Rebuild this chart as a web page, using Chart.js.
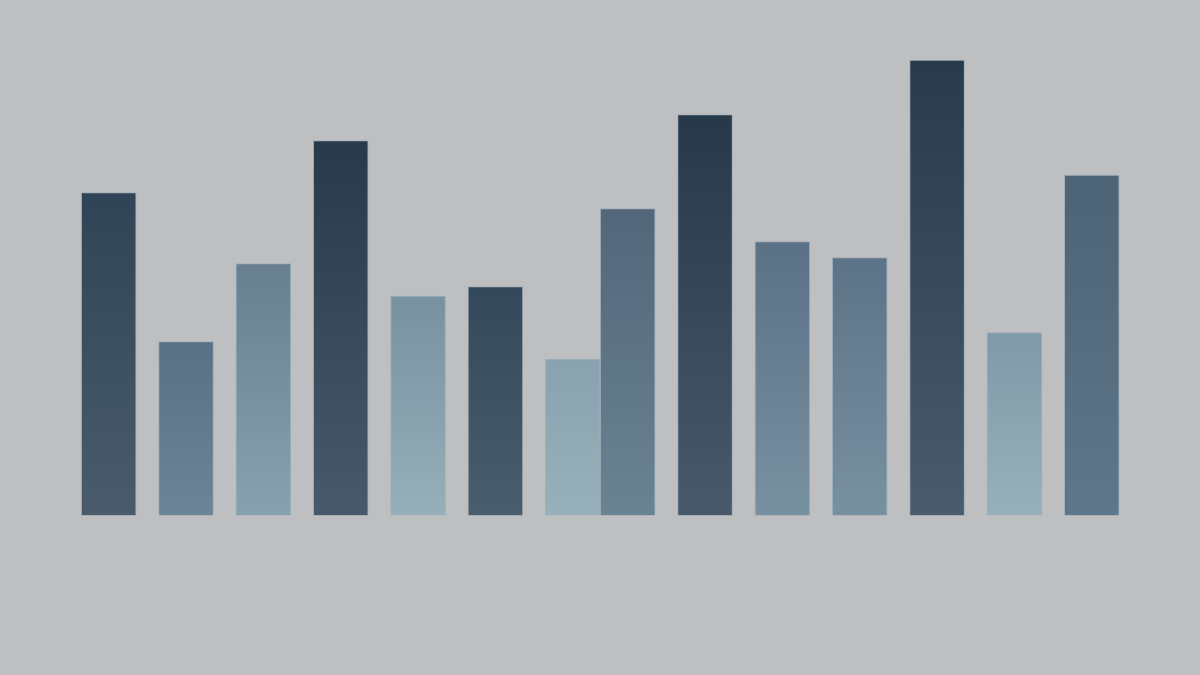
<!DOCTYPE html>
<html>
<head>
<meta charset="utf-8">
<script src="https://cdn.jsdelivr.net/npm/chart.js@4/dist/chart.umd.min.js"></script>
<style>
  html, body { margin: 0; padding: 0; background: #bebfc1; }
  #wrap { width: 1200px; height: 675px; position: relative; }
</style>
</head>
<body>
<div id="wrap"><canvas id="c"></canvas></div>
<script>
// ---- data ----
const categories = ['A','B','C','D','E','F','G','H','I','J','K','L','M','N'];
// slot position of each bar along the axis (bar H sits flush against bar G)
const slots = [0, 1, 2, 3, 4, 5, 6, 6.71, 7.71, 8.71, 9.71, 10.71, 11.71, 12.71];
const values = [64.6, 34.8, 50.4, 75.0, 43.9, 45.8, 31.3, 61.4, 80.2, 54.8, 51.6, 91.1, 36.6, 68.1];
const topColors = ['#2f4456', '#5a7085', '#677f90', '#283a4a', '#7891a0', '#33485a', '#89a2af',
                   '#52677a', '#273949', '#5a7186', '#5c7387', '#283a4b', '#7f99a7', '#4d6376'];
const bottomColors = ['#4a5c6b', '#6c8596', '#87a2af', '#47596a', '#97afba', '#4a5d6c', '#98b0bb',
                      '#6a8393', '#47596a', '#7891a1', '#7891a1', '#4a5c6b', '#98b0bb', '#5f778a'];

const points = slots.map((s, i) => ({ x: s, y: values[i] }));

const bgPlugin = {
  id: 'bg',
  beforeDraw(chart) {
    const ctx = chart.ctx;
    ctx.save();
    ctx.fillStyle = '#bebfc1';
    ctx.fillRect(0, 0, chart.width, chart.height);
    ctx.restore();
  }
};

function gradientFor(ctx) {
  const chart = ctx.chart;
  const i = ctx.dataIndex;
  if (!chart.chartArea || i === undefined) return topColors[i] || '#4a5c6b';
  const ys = chart.scales.y;
  const top = ys.getPixelForValue(values[i]);
  const bottom = ys.getPixelForValue(0);
  const g = chart.ctx.createLinearGradient(0, top, 0, bottom);
  g.addColorStop(0, topColors[i]);
  g.addColorStop(1, bottomColors[i]);
  return g;
}

new Chart(document.getElementById('c'), {
  type: 'bar',
  data: {
    labels: categories,
    datasets: [{
      data: points,
      backgroundColor: gradientFor,
      borderColor: 'rgba(125,155,175,0.45)',
      borderWidth: 1,
      borderSkipped: 'bottom',
      barPercentage: 1,
      categoryPercentage: 1
    }]
  },
  options: {
    responsive: true,
    maintainAspectRatio: false,
    animation: false,
    layout: { padding: { top: 0, bottom: 159.5, left: 0, right: 0 } },
    plugins: { legend: { display: false }, tooltip: { enabled: false } },
    scales: {
      x: {
        type: 'linear',
        display: false,
        offset: false,
        min: -1.405,
        max: 14.109,
        ticks: { stepSize: 1, includeBounds: false }
      },
      y: {
        display: false,
        min: 0,
        max: 103.1
      }
    }
  },
  plugins: [bgPlugin]
});
</script>
</body>
</html>
